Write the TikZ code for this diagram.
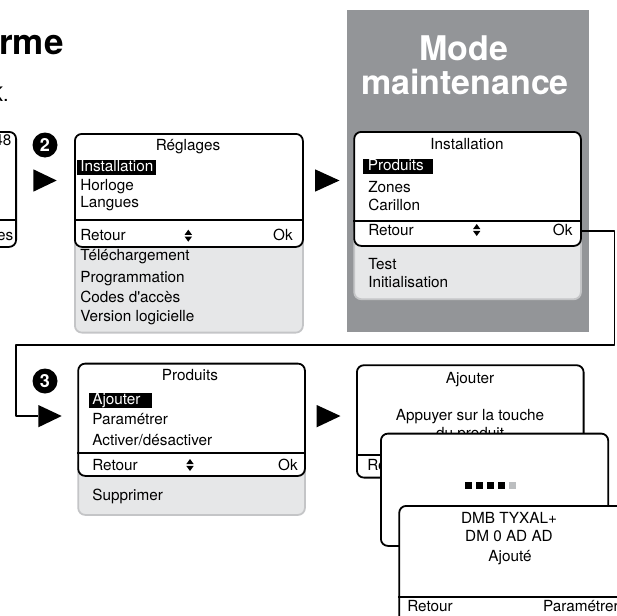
\documentclass[tikz,border=0pt]{standalone}
\usepackage{fontspec}
\setmainfont{TeX Gyre Heros}
\usetikzlibrary{positioning}

\definecolor{panelgrey}{HTML}{939598}
\definecolor{softgrey}{HTML}{E6E7E8}
\definecolor{rimgrey}{HTML}{C4C5C7}
\definecolor{dotgrey}{HTML}{BCBEC0}
\newcommand{\lcdfont}{\fontsize{15.3}{18}\selectfont}

\tikzset{updown/.pic={
    \fill (-3.7,-0.9) -- (3.7,-0.9) -- (0,-6) -- cycle;
    \fill (-3.7,0.9) -- (3.7,0.9) -- (0,6) -- cycle;}}

\begin{document}
\begin{tikzpicture}[x=1pt,y=-1pt,line join=round,
                    semithick]
  \tikzstyle{every node}=[inner sep=0pt,font=\lcdfont]
  \tikzstyle{lcd}=[draw=black,line width=1.8pt,fill=white,rounded corners=7pt,anchor=north west]
  \tikzstyle{lcdmore}=[draw=rimgrey,line width=1.8pt,fill=softgrey,rounded corners=7pt,anchor=north west]
  \tikzstyle{rule}=[line width=1.8pt]
  \tikzstyle{entry}=[anchor=base west]
  \tikzstyle{caption}=[anchor=base]
  \tikzstyle{okkey}=[anchor=base east,text height=9pt,text depth=1pt]
  \tikzstyle{picked}=[anchor=base west,fill=black,text=white,inner xsep=3pt,inner ysep=1pt,text height=10.5pt,text depth=2.5pt]
  \tikzstyle{stepnum}=[circle,fill=black,text=white,minimum size=25pt,font=\fontsize{18}{18}\selectfont\bfseries]
  \tikzstyle{play}=[fill=black]
  \tikzstyle{link}=[line width=1.8pt]

  \useasboundingbox (0,0) rectangle (617,615);
  \clip (0,0) rectangle (617,615);

  % heading
  \node[anchor=base west,font=\fontsize{35}{35}\selectfont\bfseries] (hd) at (-1,55) {rme};
  \node[anchor=base east,font=\fontsize{20}{20}\selectfont] (hd2) at (9,101.7) {K.};

  % maintenance panel
  \node[fill=panelgrey,anchor=north west,minimum width=242pt,minimum height=321.7pt] (mode) at (347,10) {};
  \node[caption,text=white,font=\fontsize{34}{34}\selectfont\bfseries] (mode1) at (464,61) {Mode};
  \node[caption,text=white,font=\fontsize{34}{34}\selectfont\bfseries] (mode2) at (465,95) {maintenance};

  % screen 0 (cut off)
  \node[lcd,anchor=north east,minimum width=227pt,minimum height=115pt] (s0) at (17,131) {};
  \draw[rule] (-220,220) -- (17,220);
  \node[anchor=base east] (s0a) at (11.7,145) {48};
  \node[anchor=base east] (s0b) at (13.5,240.7) {es};

  % step 2
  \node[stepnum] (n2) at (45,145) {2};
  \fill[play] (33.3,169.3) -- (56.7,180.5) -- (33.3,191.7) -- cycle;

  % screen 1 : Reglages
  \node[lcdmore,minimum width=228pt,minimum height=105.7pt] (e1) at (74,226) {};
  \node[lcd,minimum width=228pt,minimum height=113pt] (s1) at (74,133) {};
  \draw[rule] (74,220) -- (302,220);
  \node[caption] (s1t) at (188,150.7) {Réglages};
  \node[picked] (s1a) at (77,171.7) {Installation};
  \node[entry] (s1b) at (80,190) {Horloge};
  \node[entry] (s1c) at (80,207) {Langues};
  \node[entry] (s1r) at (80,240.7) {Retour};
  \pic at (188.3,235.7) {updown};
  \node[okkey] (s1ok) at (293,240.7) {Ok};
  \node[entry] (e1a) at (80,260.7) {Téléchargement};
  \node[entry] (e1b) at (80,282) {Programmation};
  \node[entry] (e1c) at (80,302) {Codes d\textquotesingle accès};
  \node[entry] (e1d) at (80,321.7) {Version logicielle};

  \fill[play] (315,169.3) -- (339.5,180.5) -- (315,191.7) -- cycle;

  % screen 2 : Installation
  \node[lcdmore,minimum width=226.7pt,minimum height=73.3pt] (e2) at (353.3,225) {};
  \node[lcd,minimum width=226.7pt,minimum height=114pt] (s2) at (353.3,131) {};
  \draw[rule] (353.3,220.7) -- (580,220.7);
  \node[caption] (s2t) at (467,149) {Installation};
  \node[picked,inner xsep=4.5pt,text width=61pt] (s2a) at (363,170) {Produits};
  \node[entry] (s2b) at (368,192.3) {Zones};
  \node[entry] (s2c) at (368,210) {Carillon};
  \node[entry] (s2r) at (368,235) {Retour};
  \pic at (476.7,230) {updown};
  \node[okkey] (s2ok) at (572.7,235) {Ok};
  \node[entry] (e2a) at (368,269.3) {Test};
  \node[entry] (e2b) at (368,287.3) {Initialisation};

  % back to the next row
  \coordinate (b1) at (614.5,345);
  \coordinate (b2) at (15.7,416);
  \coordinate (in3) at (38.3,416);
  \draw[link] (s2.east |- s2ok) -| (b1) -| (b2) -- (in3);

  % step 3
  \node[stepnum] (n3) at (45,381) {3};
  \fill[play] (38.3,405) -- (61.7,416) -- (38.3,427.3) -- cycle;

  % screen 3 : Produits
  \node[lcdmore,minimum width=226.7pt,minimum height=59pt] (e3) at (77.3,455) {};
  \node[lcd,minimum width=226.7pt,minimum height=112.3pt] (s3) at (77.3,362.7) {};
  \draw[rule] (77.3,452.7) -- (304,452.7);
  \node[caption] (s3t) at (190,380) {Produits};
  \node[picked,text width=57pt] (s3a) at (89,404) {Ajouter};
  \node[entry] (s3b) at (92,424) {Paramétrer};
  \node[entry] (s3c) at (92,445) {Activer/désactiver};
  \node[entry] (s3r) at (92,470) {Retour};
  \pic at (190,465) {updown};
  \node[okkey] (s3ok) at (298,470) {Ok};
  \node[entry] (e3a) at (92,500.7) {Supprimer};

  \fill[play] (316.7,405) -- (340.5,416) -- (316.7,427.3) -- cycle;

  % screen 4 : Ajouter
  \node[lcd,minimum width=226.7pt,minimum height=112.4pt] (s4) at (356,364.3) {};
  \draw[rule] (356,455) -- (582.7,455);
  \node[caption] (s4t) at (470,383.3) {Ajouter};
  \node[caption] (s4a) at (470,420.7) {Appuyer sur la touche};
  \node[caption] (s4b) at (470,438) {du produit};
  \node[entry] (s4r) at (367,470) {Retour};

  % screen 5 : progress
  \node[lcd,minimum width=227.3pt,minimum height=112.3pt] (s5) at (380,432.7) {};
  \foreach \i in {0,...,3}
    \fill (464.7+11*\i,481.7) rectangle ++(7.5,7.5);
  \fill[dotgrey] (508.7,481.7) rectangle ++(7.5,7.5);

  % screen 6 : result
  \node[lcd,minimum width=227pt,minimum height=150pt] (s6) at (398.3,505) {};
  \draw[rule] (398.3,596.7) -- (625.3,596.7);
  \node[caption] (s6a) at (509,523.3) {DMB TYXAL+};
  \node[caption] (s6b) at (509,541.7) {DM 0 AD AD};
  \node[caption] (s6c) at (510,561.7) {Ajouté};
  \node[entry] (s6r) at (407,611.7) {Retour};
  \node[anchor=base east] (s6p) at (619,611.7) {Paramétrer};

\end{tikzpicture}
\end{document}
